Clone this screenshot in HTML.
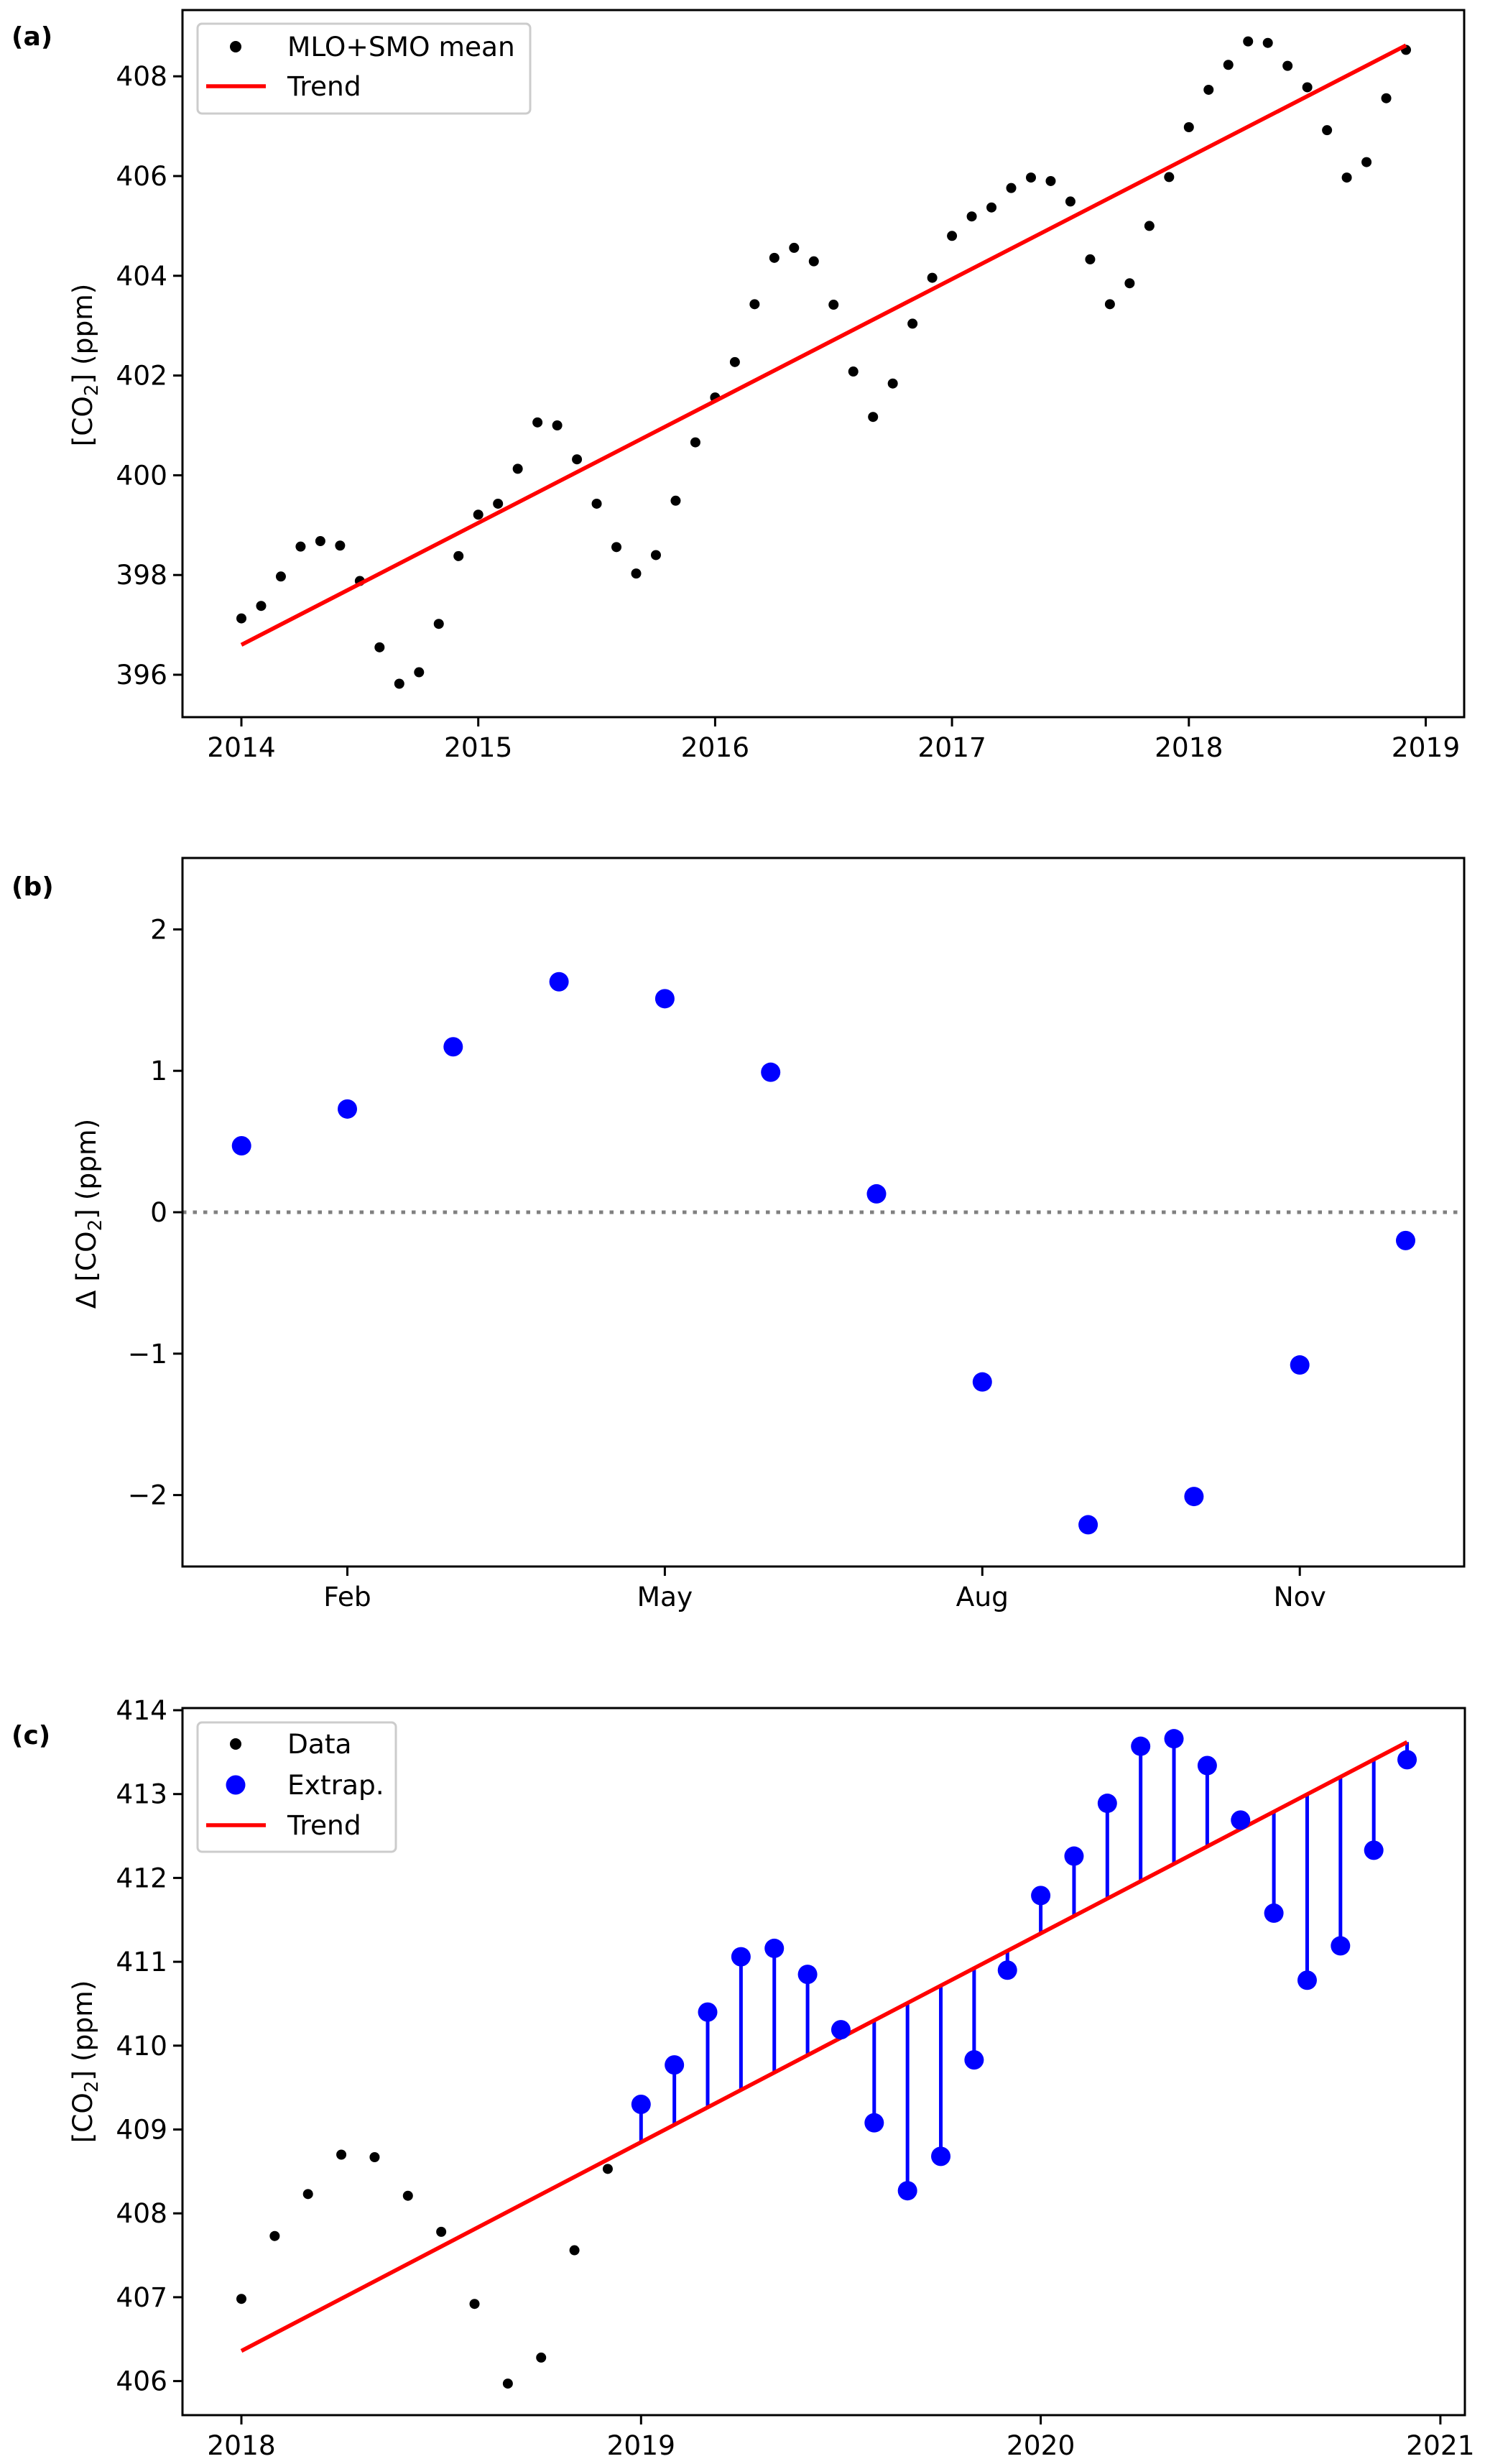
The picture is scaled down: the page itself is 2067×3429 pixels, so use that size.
<!DOCTYPE html>
<html><head><meta charset="utf-8"><title>CO2 panels</title>
<style>
html,body{margin:0;padding:0;background:#fff;}
svg{display:block;}
text{font-family:"DejaVu Sans","Liberation Sans",sans-serif;fill:#000;}
</style></head>
<body>
<svg id="fig" xmlns="http://www.w3.org/2000/svg" width="2067" height="3429" viewBox="0 0 2067 3429">
<rect width="2067" height="3429" fill="#fff"/>
</svg>
<script>
// ---- Panel (a) data ----
const aStartYear = 2014;
const aValues = [397.13,397.38,397.97,398.57,398.68,398.59,397.88,396.55,395.82,396.05,397.02,398.38,
399.21,399.43,400.13,401.06,401.00,400.32,399.43,398.56,398.03,398.40,399.49,400.66,
401.56,402.27,403.43,404.36,404.56,404.29,403.42,402.08,401.17,401.84,403.04,403.96,
404.80,405.19,405.37,405.76,405.97,405.90,405.49,404.33,403.43,403.85,405.00,405.98,
406.98,407.73,408.23,408.70,408.67,408.21,407.78,406.92,405.97,406.28,407.56,408.53];
const aTrendEnds = [396.60, 408.62];
const aYTicks = [396,398,400,402,404,406,408];
const aXTicks = [2014,2015,2016,2017,2018,2019];
// ---- Panel (b) data ----
const bMonths = [1,2,3,4,5,6,7,8,9,10,11,12];
const bDeltas = [0.47,0.73,1.17,1.63,1.51,0.99,0.13,-1.20,-2.21,-2.01,-1.08,-0.20];
const bYTicks = [-2,-1,0,1,2];
const bYTickLabels = ["\u22122","\u22121","0","1","2"];
const bXTicks = [2,5,8,11];
const bXTickLabels = ["Feb","May","Aug","Nov"];
// ---- Panel (c) data ----
const cData = [406.98,407.73,408.23,408.70,408.67,408.21,407.78,406.92,405.97,406.28,407.56,408.53];
const cExtrap = [409.30,409.77,410.40,411.06,411.16,410.85,410.19,409.08,408.27,408.68,409.83,410.90,
411.79,412.26,412.89,413.57,413.66,413.34,412.69,411.58,410.78,411.19,412.33,413.41];
const cTrendEnds = [406.36, 413.62];
const cYTicks = [406,407,408,409,410,411,412,413,414];
const cXTicks = [2018,2019,2020,2021];

const NS="http://www.w3.org/2000/svg";
const svg=document.getElementById('fig');
function mk(tag,attrs,parent){const e=document.createElementNS(NS,tag);for(const k in attrs)e.setAttribute(k,attrs[k]);(parent||svg).appendChild(e);return e;}
const FS=37.5, TL=13, AW=3;

function axes(name,L,T,R,B){
  const g=mk('g',{});
  
  
  return g;
}
function frame(g,name,L,T,R,B){
  const r=mk('rect',{x:L,y:T,width:R-L,height:B-T,fill:'none',stroke:'#000','stroke-width':AW},g);
  
  
}
function yticks(g,name,L,vals,labels,ys){
  vals.forEach((v,i)=>{const y=ys(v);
    const t=mk('line',{x1:L-TL,x2:L,y1:y,y2:y,stroke:'#000','stroke-width':AW},g);
    
    
    const tx=mk('text',{x:L-TL-8,y:y+13,'text-anchor':'end','font-size':FS},g);
    
    
    tx.textContent=labels?labels[i]:String(v);});
}
function xticks(g,name,B,vals,labels,xs){
  vals.forEach((v,i)=>{const x=xs(v);
    const t=mk('line',{x1:x,x2:x,y1:B,y2:B+TL,stroke:'#000','stroke-width':AW},g);
    
    
    const tx=mk('text',{x:x,y:B+TL+42,'text-anchor':'middle','font-size':FS},g);
    
    
    tx.textContent=labels?labels[i]:String(v);});
}
function ylabel(g,name,cx,cy,delta){
  const t=mk('text',{x:0,y:0,'text-anchor':'middle','font-size':FS,transform:`translate(${cx+13},${cy}) rotate(-90)`},g);
  
  
  t.innerHTML=(delta?'\u0394 ':'')+'[CO<tspan font-size="26" dy="8">2</tspan><tspan dy="-8">] (ppm)</tspan>';
}
function plabel(txt,y){
  const t=mk('text',{x:16,y:y+13,'font-size':36,'font-weight':'bold'});
  
  
  t.textContent=txt;
}
function legend(g,name,L,T,R,B,entries){
  const lg=mk('g',{},g);
  
  
  mk('rect',{x:L,y:T,width:R-L,height:B-T,rx:6,fill:'#fff','fill-opacity':0.8,stroke:'#ccc','stroke-width':3},lg);
  entries.forEach(e=>{
    let m;
    if(e.type==='line') m=mk('line',{x1:287,x2:370,y1:e.y,y2:e.y,stroke:'#f00','stroke-width':5.6},lg);
    else m=mk('circle',{cx:328,cy:e.y,r:e.r,fill:e.color},lg);
    
    
    const t=mk('text',{x:400,y:e.y+13,'font-size':FS},lg);
    
    
    t.textContent=e.label;
  });
}

// ===== Panel (a) =====
(function(){
  const L=254,T=14,R=2038,B=998;
  const xs=v=>336+(v-2014)*329.7, ys=v=>939-(v-396)*69.4;
  const g=axes('panel-a',L,T,R,B);
  const pts=mk('g',{},g);
  
  
  aValues.forEach((v,i)=>{const c=mk('circle',{cx:xs(aStartYear+i/12),cy:ys(v),r:7,fill:'#000'},pts);
    
    });
  const tr=mk('line',{x1:xs(aStartYear),y1:ys(aTrendEnds[0]),x2:xs(aStartYear+(aValues.length-1)/12),y2:ys(aTrendEnds[1]),stroke:'#f00','stroke-width':5.6},g);
  
  
  frame(g,'panel-a',L,T,R,B);
  yticks(g,'panel-a',L,aYTicks,null,ys);
  xticks(g,'panel-a',B,aXTicks,null,xs);
  ylabel(g,'panel-a',115,508,false);
  legend(g,'panel-a',275,33,738,158,[
    {type:'dot',y:65,r:8,color:'#000',label:'MLO+SMO mean',key:'mean'},
    {type:'line',y:120,label:'Trend',key:'trend'}]);
  plabel('(a)',50);
})();

// ===== Panel (b) =====
(function(){
  const L=254,T=1194,R=2038,B=2180;
  const xs=m=>483.5+(m-2)*147.3, ys=v=>1687-v*196.8;
  const g=axes('panel-b',L,T,R,B);
  const z=mk('line',{x1:L,x2:R,y1:ys(0),y2:ys(0),stroke:'#808080','stroke-width':5,'stroke-dasharray':'5.5 9'},g);
  
  
  const pts=mk('g',{},g);
  
  
  bMonths.forEach((m,i)=>{const c=mk('circle',{cx:xs(m),cy:ys(bDeltas[i]),r:13.5,fill:'#00f'},pts);
    
    });
  frame(g,'panel-b',L,T,R,B);
  yticks(g,'panel-b',L,bYTicks,bYTickLabels,ys);
  xticks(g,'panel-b',B,bXTicks,bXTickLabels,xs);
  ylabel(g,'panel-b',120,1689,true);
  plabel('(b)',1233);
})();

// ===== Panel (c) =====
(function(){
  const L=254,T=2377,R=2039,B=3361;
  const xs=v=>336+(v-2018)*556.3, ys=v=>2380-(v-414)*116.7;
  const g=axes('panel-c',L,T,R,B);
  const slope=(cTrendEnds[1]-cTrendEnds[0])/(35/12);
  const trend=t=>cTrendEnds[0]+slope*(t-2018);
  const stems=mk('g',{},g);
  
  
  cExtrap.forEach((v,i)=>{const t=2019+i/12;
    const s=mk('line',{x1:xs(t),x2:xs(t),y1:ys(trend(t)),y2:ys(v),stroke:'#00f','stroke-width':5},stems);
    
    });
  const tr=mk('line',{x1:xs(2018),y1:ys(cTrendEnds[0]),x2:xs(2018+35/12),y2:ys(cTrendEnds[1]),stroke:'#f00','stroke-width':5.6},g);
  
  
  const dp=mk('g',{},g);
  
  
  cData.forEach((v,i)=>{const c=mk('circle',{cx:xs(2018+i/12),cy:ys(v),r:7,fill:'#000'},dp);
    
    });
  const ep=mk('g',{},g);
  
  
  cExtrap.forEach((v,i)=>{const c=mk('circle',{cx:xs(2019+i/12),cy:ys(v),r:13.5,fill:'#00f'},ep);
    
    });
  frame(g,'panel-c',L,T,R,B);
  yticks(g,'panel-c',L,cYTicks,null,ys);
  xticks(g,'panel-c',B,cXTicks,null,xs);
  ylabel(g,'panel-c',115,2869,false);
  legend(g,'panel-c',275,2397,551,2577,[
    {type:'dot',y:2427,r:8,color:'#000',label:'Data',key:'data'},
    {type:'dot',y:2484,r:13.5,color:'#00f',label:'Extrap.',key:'extrap'},
    {type:'line',y:2540,label:'Trend',key:'trend'}]);
  plabel('(c)',2414);
})();
</script>
</body></html>
